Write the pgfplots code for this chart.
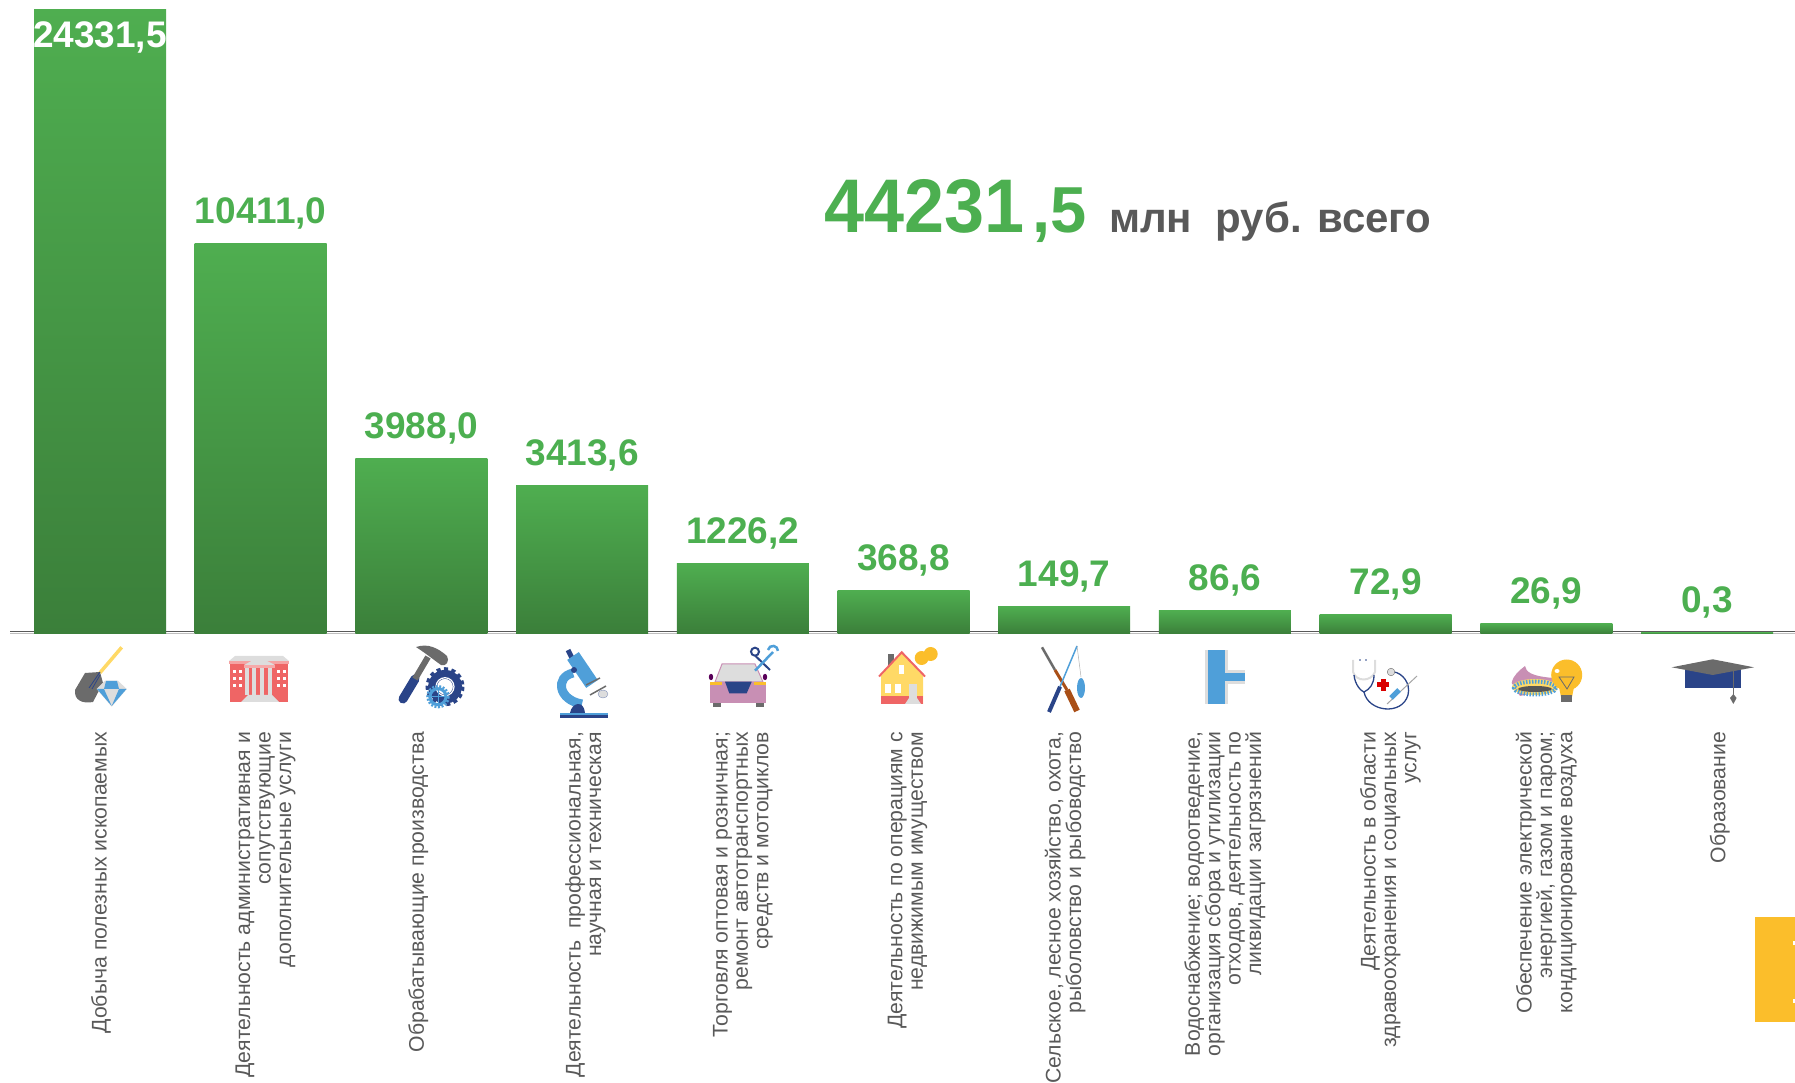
\documentclass[border=0pt]{standalone}
\usepackage{fontspec}
\setmainfont{Liberation Sans}
\usepackage{pgfplots}
\usepackage{pgfplotstable}
\pgfplotsset{compat=1.18}

\definecolor{bartop}{HTML}{4FAE50}
\definecolor{barbot}{HTML}{3B7F3A}
\definecolor{lblgreen}{HTML}{4CAF50}
\definecolor{txtgrey}{HTML}{595959}
\definecolor{icgrey}{HTML}{6B6B6B}
\definecolor{iclight}{HTML}{DDDDDD}
\definecolor{icblue}{HTML}{4F9FD9}
\definecolor{icnavy}{HTML}{2A4488}
\definecolor{icred}{HTML}{EF6565}
\definecolor{icyellow}{HTML}{FFD966}
\definecolor{icgold}{HTML}{FBBE2B}
\definecolor{icpink}{HTML}{C88FB4}
\definecolor{icbrown}{HTML}{A94F17}

% drawn = bar height as it stands in the picture, the bars are not to scale with the labels
\pgfplotstableread{
idx drawn label
0 624.2 24331,5
1 390.2 10411,0
2 175.2 3988,0
3 148.2 3413,6
4 70.2 1226,2
5 43.2 368,8
6 27.2 149,7
7 23.2 86,6
8 19.2 72,9
9 10.2 26,9
10 1.5 0,3
}\tablebars

\begin{document}
\begin{tikzpicture}
\path[use as bounding box, clip] (0,0) rectangle (1795pt,1082pt);
\begin{axis}[
    scale only axis,
    width=1795pt, height=1082pt,
    xmin=-0.6223, xmax=10.5476,
    ymin=-448.3, ymax=633.7,
    axis x line=middle,
    axis y line=none,
    axis line style={draw=none},
    hide obscured x ticks=false,
    % labels do not sit exactly under their bars in the reference
    xtick={0.006,1.03,1.98,3.02,4,5.025,6.006,7,8.03,9,10.08},
    xtick style={draw=none},
    ytick=\empty,
    xticklabels={
        {Добыча полезных ископаемых},
        {Деятельность административная и\\сопутствующие\\дополнительные услуги},
        {Обрабатывающие производства},
        {Деятельность\ \ профессиональная,\\научная и техническая},
        {Торговля оптовая и розничная;\\ремонт автотранспортных\\средств и мотоциклов},
        {Деятельность по операциям с\\недвижимым имуществом},
        {Сельское, лесное хозяйство, охота,\\рыболовство и рыбоводство},
        {Водоснабжение; водоотведение,\\организация сбора и утилизации\\отходов, деятельность по\\ликвидации загрязнений},
        {Деятельность в области\\здравоохранения и социальных\\услуг},
        {Обеспечение электрической\\энергией, газом и паром;\\кондиционирование воздуха},
        {Образование}
    },
    xticklabel style={rotate=90, anchor=east, align=right, inner sep=0pt, xshift=-96pt,
        text=txtgrey, font=\fontsize{21.2}{20.4}\selectfont},
    point meta=explicit symbolic,
    nodes near coords,
    nodes near coords align={anchor=base},
    barstyle/.style={ybar, bar shift=0pt, bar width=132pt, draw=none, shade,
        top color=bartop, bottom color=barbot, forget plot},
]
% baseline
\addplot[forget plot, draw=black!25, line width=1pt] coordinates {(-0.56,0.6) (10.5476,0.6)};
\addplot[forget plot, draw=txtgrey, line width=1.3pt] coordinates {(-0.56,2) (10.5476,2)};

% one plot per bar, so each has its own gradient
\addplot[barstyle, restrict x to domain=0:0,
    every node near coord/.append style={yshift=-38pt, inner sep=0pt, text=white,
        font=\fontsize{37}{40}\selectfont\bfseries}]
    table[x=idx, y=drawn, meta=label] {\tablebars};
\pgfplotsinvokeforeach{1,2,3,4,5,6,7,8,9,10}{
\addplot[barstyle, restrict x to domain=#1:#1,
    every node near coord/.append style={yshift=19.5pt, inner sep=0pt, text=lblgreen,
        font=\fontsize{37}{40}\selectfont\bfseries}]
    table[x=idx, y=drawn, meta=label] {\tablebars};
}
\end{axis}

% everything below in picture pixels, y downwards
\begin{scope}[x=1pt, y=-1pt, yshift=1082pt]
% total
\node[anchor=base west, inner sep=0pt, text=lblgreen, font=\fontsize{76}{80}\selectfont\bfseries]
    at (824,232.7) {\scalebox{0.947}[1]{44231}};
\node[anchor=base west, inner sep=0pt, text=lblgreen, font=\fontsize{65}{70}\selectfont\bfseries]
    at (1032,232.7) {,5};
\node[anchor=base west, inner sep=0pt, text=txtgrey, font=\fontsize{42}{46}\selectfont\bfseries]
    at (1109,232.7) {млн\ \ руб. всего};

% yellow tab
\fill[icgold] (1755,917) rectangle (1795,1021.7);
\fill[white] (1793,941) rectangle (1795,945);
\fill[white] (1793,999) rectangle (1795,1003);

% shovel and diamond
\draw[icyellow, line width=3.5pt] (121.7,647.3) -- (100,672.7);
\fill[icgrey] (85,673) -- (100,672) -- (103,683) -- (93,702) .. controls (82,704) and (74,700) .. (75,690) -- cycle;
\draw[icnavy, line width=.8pt] (100,672) -- (89,688) (100,675) -- (92,689);
\fill[iclight] (105,680.7) -- (118,680.7) -- (126.7,689) -- (111.7,706.7) -- (96.7,689) -- cycle;
\fill[icblue] (106,681) -- (117,681) -- (119,689) -- (104,689) -- cycle;
\fill[icblue] (104,689) -- (111.7,706) -- (97,689) -- cycle;
\fill[icblue] (119,689) -- (111.7,706) -- (126.5,689) -- cycle;

% building
\fill[icred] (230,662) rectangle (288,702);
\fill[iclight] (235,656) -- (283,656) -- (289,661) -- (229,661) -- cycle;
\fill[icred!60] (229,661) rectangle (289,664);
\fill[iclight] (241,702) -- (248,695) -- (272,695) -- (279,702) -- cycle;
\fill[iclight] (244,665) -- (259,657) -- (275,665) -- cycle;
\fill[icred!55] (244,665) rectangle (275,668);
\foreach \x in {245,252,260,268} \fill[iclight] (\x,668) rectangle (\x+4,695);
\foreach \x in {234,240,278,284} \foreach \y in {672,679,686} \fill[white] (\x-1.5,\y-1.5) rectangle (\x+1.5,\y+1.5);

% hammer and gears
\draw[icnavy, line width=9pt, line cap=round] (403,699) -- (415,679);
\draw[icgrey, line width=6pt] (415,679) -- (428,657);
\fill[icgrey] (416,647) .. controls (428,643) and (438,648) .. (447,656) .. controls (450,661) and (446,667) .. (441,665) .. controls (434,660) and (428,655) .. (416,647) -- cycle;
\draw[icnavy, line width=4pt, dash pattern=on 4pt off 3.4pt] (445,686.7) circle (17.5);
\draw[icnavy, line width=9pt] (445,686.7) circle (12.5);
\draw[white, line width=1.2pt] (445,686.7) circle (9);
\draw[icblue, line width=2.5pt, dash pattern=on 2pt off 1.6pt] (438,696.7) circle (10.5);
\draw[icblue, line width=3pt] (438,696.7) circle (8);
\draw[icblue, line width=1pt] (430,696.7) -- (446,696.7) (438,689) -- (438,704);

% microscope
\fill[icblue] (560,713) rectangle (608,715.5);
\fill[icnavy] (560,715.5) rectangle (608,718);
\draw[icnavy, line width=5pt] (568,650) -- (573,660);
\draw[icblue, line width=14pt] (573,656) -- (592,684);
\draw[icblue, line width=9pt] (573,673) .. controls (555,677) and (558,700) .. (582,704);
\fill[icnavy] (570,713) .. controls (572,702) and (584,700) .. (585,713) -- cycle;
\draw[icgrey, line width=1.5pt] (586,685) -- (600,678);
\draw[icgrey, line width=1.5pt] (590,695) -- (606,686);
\fill[iclight, draw=icnavy!60] (603,694) ellipse (5 and 4);
\fill[icnavy] (574,670) circle (3);

% car and tools
\fill[iclight, draw=icpink, line width=1pt] (715,682) -- (722,664) -- (755,664) -- (763,682) -- cycle;
\fill[icpink] (710,681.7) rectangle (766,702.7);
\fill[icnavy] (725,681.7) -- (751.7,681.7) -- (746.7,693.3) -- (729.3,693.3) -- cycle;
\fill[icgold] (710,681.7) rectangle (722,685);
\fill[icgold] (754,681.7) rectangle (766,685);
\fill[icgrey] (713,703) rectangle (721,707.5);
\fill[icgrey] (756,703) rectangle (764,707.5);
\fill[violet!70!black] (711,677) ellipse (2.2 and 3.2);
\fill[violet!70!black] (765,677) ellipse (2.2 and 3.2);
\draw[icnavy, line width=2pt] (755.5,656) -- (770,670);
\draw[icnavy, line width=2pt] (755,651.7) circle (4);
\draw[icblue, line width=2.5pt] (773,652) -- (755,670.7);
\draw[icblue, line width=2.5pt] (768,650) arc (190:360:5);

% house with coins
\fill[icgrey] (888,654) rectangle (894,667);
\fill[icyellow] (881,676) -- (901.7,652.3) -- (923,676) -- (923,704) -- (881,704) -- cycle;
\fill[icred] (881,696) rectangle (923,704);
\draw[icred, line width=2pt] (879,676.5) -- (901.7,652.3) -- (925,676.5);
\fill[white] (899,665) rectangle (904,674);
\fill[white] (885,684) rectangle (891,693);
\fill[white] (895,684) rectangle (901,693);
\fill[iclight] (909,684) rectangle (917,698);
\fill[iclight] (905,704) -- (909,698) -- (917,698) -- (921,704) -- cycle;
\fill[icgold] (930.7,654) circle (7);
\fill[icgold] (921.7,658) circle (7);

% rifle and rod
\draw[icgrey, line width=2.5pt] (1042,647.3) -- (1055,670);
\draw[icbrown, line width=3pt] (1055,670) -- (1067,690);
\draw[icbrown, line width=6pt] (1067,690) -- (1077,711);
\draw[icblue, line width=1.5pt] (1077,646) -- (1060,686.7);
\draw[icnavy, line width=4pt] (1060,686.7) -- (1049,712);
\draw[black!30, line width=.5pt] (1077,646) -- (1081,677);
\fill[icblue] (1081,688) ellipse (4 and 10);

% pipe
\fill[iclight] (1205,650) rectangle (1228,704);
\fill[iclight] (1228,670) rectangle (1245,684);
\fill[icblue] (1208.3,650) rectangle (1225.3,704);
\fill[icblue] (1225,673) rectangle (1245,681);

% stethoscope and syringe
\draw[iclight, line width=2pt] (1353,660) -- (1353,672) .. controls (1356,682) and (1371,682) .. (1375,672) -- (1375,660);
\fill[icnavy] (1360,660) circle (.8) (1366,660) circle (.8);
\draw[icnavy, line width=1.3pt] (1354,675) .. controls (1355,685) and (1361,691) .. (1364,692) .. controls (1370,689) and (1374,684) .. (1374,675);
\draw[icnavy, line width=1.3pt] (1364,692) .. controls (1368,712) and (1402,716) .. (1408,695) .. controls (1411,683) and (1402,673) .. (1394,672);
\fill[iclight, draw=icgrey] (1391,672) circle (3.8);
\fill[red!85!black] (1380.5,679) rectangle (1385.5,691);
\fill[red!85!black] (1377,682.5) rectangle (1389,687.5);
\draw[icgrey!60, line width=1pt] (1417,676) -- (1387,704);
\draw[icblue, line width=5pt] (1391,698) -- (1399,690);

% flame and bulb
\fill[icpink] (1511.7,683) .. controls (1513,675) and (1520,670) .. (1525,666) .. controls (1526,672) and (1531,676) .. (1553,678) -- (1558,688) -- (1520,696) -- cycle;
\fill[icyellow] (1535,687) ellipse (23 and 8);
\draw[icblue, line width=4pt, dash pattern=on 1.5pt off 1.5pt] (1535,688) ellipse (21 and 6.5);
\fill[icgrey!80!black] (1535,689) ellipse (17 and 3);
\fill[icgold] (1566.7,675) circle (15.5);
\fill[icgold] (1558,682) -- (1575,682) -- (1572,697) -- (1561,697) -- cycle;
\fill[white] (1557,671) ellipse (2.5 and 2);
\draw[icgrey, line width=.8pt] (1559,677) -- (1574,677) -- (1567,689) -- cycle;
\fill[icgrey] (1561,695) rectangle (1572,702);

% cap
\fill[icnavy] (1685,670) rectangle (1740.7,688);
\fill[icgrey] (1671.7,667.3) -- (1712.7,659.3) -- (1754,667.3) -- (1712.7,675) -- cycle;
\draw[icgrey, line width=.8pt] (1733.3,671) -- (1733.3,697);
\fill[icgrey] (1733.3,704) -- (1730,698) -- (1733.3,694) -- (1736.6,698) -- cycle;
\end{scope}
\end{tikzpicture}
\end{document}
